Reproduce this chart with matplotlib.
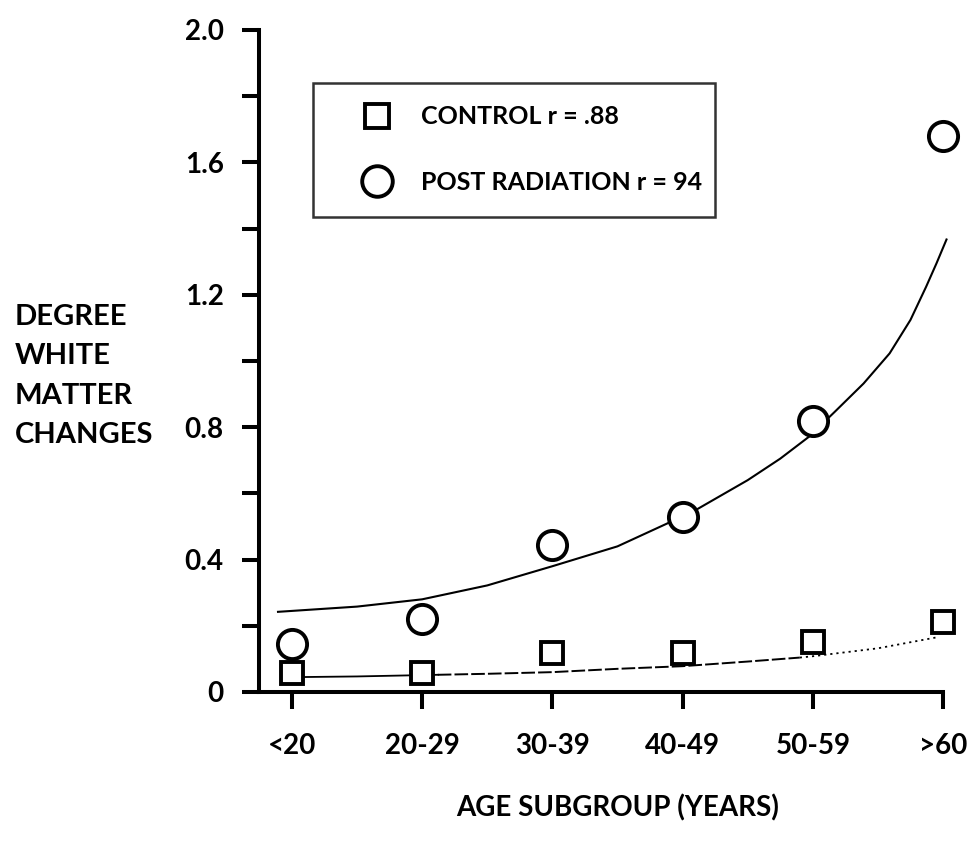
import matplotlib
matplotlib.use("Agg")
import matplotlib.pyplot as plt
from matplotlib.lines import Line2D
from matplotlib.ticker import FixedLocator, FixedFormatter

# ---- data ----
age_groups = ["<20", "20-29", "30-39", "40-49", "50-59", ">60"]
control_values = [0.057, 0.057, 0.118, 0.118, 0.151, 0.211]
radiation_values = [0.145, 0.22, 0.444, 0.53, 0.82, 1.68]

# fitted trend curves, read at positions along the category axis
rad_fit_x = [-0.115, 0.5, 1.0, 1.5, 2.0, 2.5, 3.08, 3.5, 3.75, 3.97,
             4.17, 4.39, 4.59, 4.75, 4.87, 4.95, 5.03]
rad_fit_y = [0.242, 0.258, 0.28, 0.322, 0.38, 0.44, 0.545, 0.64, 0.705,
             0.771, 0.847, 0.932, 1.023, 1.124, 1.224, 1.295, 1.37]

ctl_fit_solid_x = [0.04, 0.5, 1.12]
ctl_fit_solid_y = [0.045, 0.047, 0.052]
ctl_fit_dash_x = [1.12, 1.5, 2.0, 2.5, 3.0, 3.5, 3.9]
ctl_fit_dash_y = [0.052, 0.055, 0.06, 0.07, 0.078, 0.092, 0.104]
ctl_fit_dot_x = [3.9, 4.0, 4.5, 4.95]
ctl_fit_dot_y = [0.104, 0.108, 0.132, 0.165]

y_major = [0, 0.4, 0.8, 1.2, 1.6, 2.0]
y_major_labels = ["0", "0.4", "0.8", "1.2", "1.6", "2.0"]
y_minor = [0.2, 0.6, 1.0, 1.4, 1.8]

FONT = "Lato"
plt.rcParams["font.family"] = [FONT, "DejaVu Sans"]
plt.rcParams["font.weight"] = "bold"

fig = plt.figure(figsize=(9.8, 8.42), dpi=100)
W, H = 980, 842
ax_left, ax_right = 259, 943
ax_top, ax_bottom = 30, 692
ax = fig.add_axes([ax_left / W, 1 - ax_bottom / H,
                   (ax_right - ax_left) / W, (ax_bottom - ax_top) / H])

xpos = list(range(len(age_groups)))
ax.set_xlim(-0.253, 5.0)
ax.set_ylim(0, 2.0)

# trend curves
ax.plot(rad_fit_x, rad_fit_y, color="black", lw=1.5, clip_on=False,
        solid_capstyle="butt", solid_joinstyle="round")
ax.plot(ctl_fit_solid_x, ctl_fit_solid_y, color="black", lw=1.3)
ax.plot(ctl_fit_dash_x, ctl_fit_dash_y, color="black", lw=1.4,
        linestyle=(0, (7, 1.6)))
ax.plot(ctl_fit_dot_x, ctl_fit_dot_y, color="black", lw=1.3,
        linestyle=(0, (1.2, 2.2)))

# data markers
ax.plot(xpos, control_values, linestyle="none", marker="s", ms=16.5,
        mfc="white", mec="black", mew=2.8, clip_on=False, zorder=5)
ax.plot(xpos, radiation_values, linestyle="none", marker="o", ms=21,
        mfc="white", mec="black", mew=2.8, clip_on=False, zorder=5)

# spines
for s in ["top", "right"]:
    ax.spines[s].set_visible(False)
for s in ["left", "bottom"]:
    ax.spines[s].set_linewidth(2.9)

ax.set_xticks(xpos)
ax.set_xticklabels(age_groups)
ax.yaxis.set_major_locator(FixedLocator(y_major))
ax.yaxis.set_major_formatter(FixedFormatter(y_major_labels))
ax.yaxis.set_minor_locator(FixedLocator(y_minor))

ax.tick_params(axis="x", which="major", direction="out", length=12.5,
               width=2.9, pad=17, labelsize=20)
ax.tick_params(axis="y", which="both", direction="out", length=12.5,
               width=2.9, pad=13, labelsize=20)
for lab in ax.get_xticklabels() + ax.get_yticklabels():
    lab.set_fontweight("bold")

# axis labels
fig.text(618 / W, 1 - 808 / H, "AGE SUBGROUP (YEARS)", ha="center",
         va="center", fontsize=20, fontweight="bold")
fig.text(15 / W, 1 - 376 / H, "DEGREE\nWHITE\nMATTER\nCHANGES", ha="left",
         va="center", fontsize=21, fontweight="bold", linespacing=1.63)

# legend
handles = [
    Line2D([], [], linestyle="none", marker="s", ms=17.5, mfc="white",
           mec="black", mew=2.8),
    Line2D([], [], linestyle="none", marker="o", ms=22, mfc="white",
           mec="black", mew=2.8),
]
labels = ["CONTROL r = .88", "POST RADIATION r = 94"]
leg_top = 1 - 83 / H
leg = ax.legend(handles, labels, loc="upper left",
                bbox_to_anchor=(313 / W, leg_top - 0.01, (715 - 313) / W, 0.01),
                bbox_transform=fig.transFigure, mode="expand",
                prop={"family": FONT, "weight": "bold", "size": 18},
                frameon=True, fancybox=False, edgecolor="black",
                borderpad=0.9, labelspacing=1.7, handlelength=3.3,
                handletextpad=0.1, borderaxespad=0)
leg.get_frame().set_linewidth(1.8)

fig.savefig("out.png", dpi=100)
